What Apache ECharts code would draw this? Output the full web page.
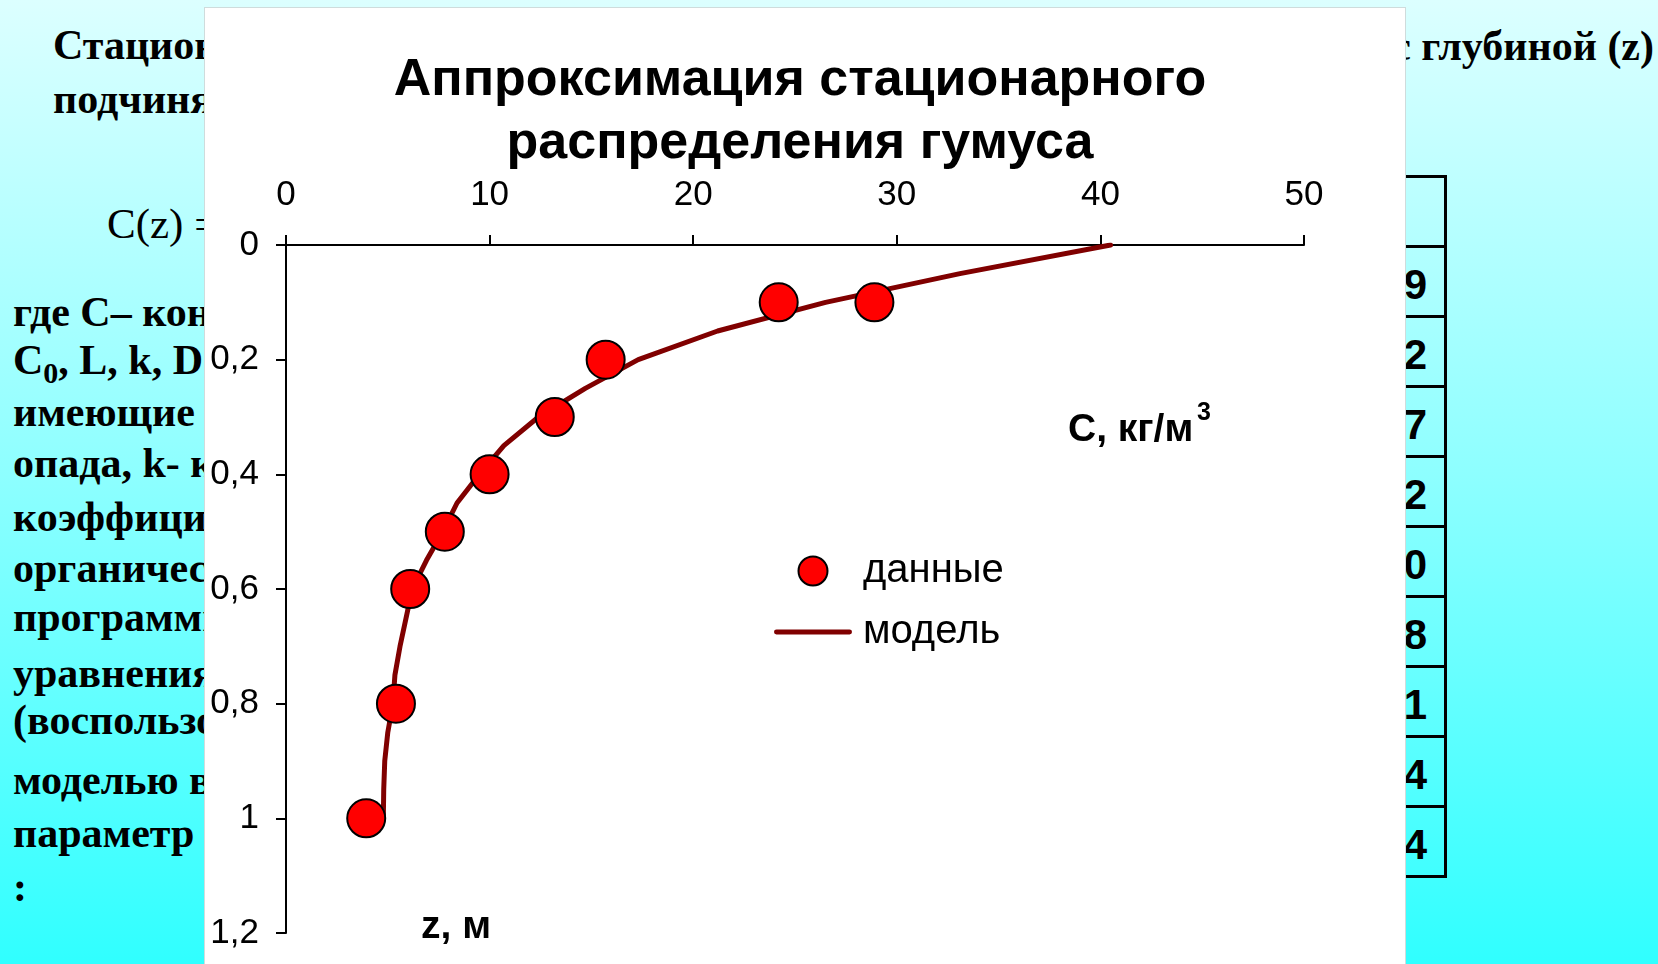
<!DOCTYPE html>
<html lang="ru">
<head>
<meta charset="utf-8">
<title>Аппроксимация стационарного распределения гумуса</title>
<script src="https://cdn.jsdelivr.net/npm/echarts@6.0.0/dist/echarts.min.js"></script>
<style>
  html, body { margin: 0; padding: 0; }
  body {
    width: 1658px; height: 964px; overflow: hidden; position: relative;
    background: linear-gradient(to bottom, #dcffff 0%, #8cffff 50%, #30ffff 100%);
    font-family: "Liberation Serif", serif;
  }
  .slide { position: absolute; left: 0; top: 0; width: 1400px; height: 964px; overflow: hidden; z-index: 1; }
  .ln { position: absolute; white-space: nowrap; font-weight: bold; font-size: 42px; line-height: 46px; color: #000; }
  .ln sub { font-size: 30px; vertical-align: -9px; line-height: 0; }
  .rt { position: absolute; right: 4px; top: 23px; white-space: nowrap; font-weight: bold; font-size: 42px; line-height: 46px; z-index: 1; }
  #tbl { position: absolute; right: 211px; top: 175px; border-collapse: collapse; z-index: 1;
         font-family: "Liberation Sans", sans-serif; font-weight: bold; font-size: 42px; }
  #tbl td { border: 3px solid #000; height: 61px; padding: 6px 17px 0 4px; text-align: right; box-sizing: content-box; }
  #tbl td.h { text-align: center; font-size: 30px; }
  #panel { position: absolute; left: 204px; top: 7px; width: 1200px; height: 970px;
           background: #fff; border: 1px solid #cfdcdc; z-index: 2; }
  #main { position: absolute; left: 0; top: 0; width: 1600px; height: 964px; z-index: 3; }
</style>
</head>
<body>

<div class="slide">
  <div class="ln" style="left:53px; top:22px;">Стационарное распределение гумуса в почве</div>
  <div class="ln" style="left:53px; top:76px;">подчиняется уравнению:</div>
  <div class="ln" style="left:107px; top:201px; font-weight:normal; font-size:43px;">C(z) = C<sub>0</sub>·exp(−kz/D) + L/k·(1 − exp(−kz/D))</div>
  <div class="ln" style="left:13px; top:289px;">где C– концентрация органического вещества,</div>
  <div class="ln" style="left:13px; top:337px;">C<sub>0</sub>, L, k, D – параметры модели,</div>
  <div class="ln" style="left:13px; top:389px;">имеющие смысл: L – интенсивность</div>
  <div class="ln" style="left:13px; top:440px;">опада, k- константа разложения, D –</div>
  <div class="ln" style="left:13px; top:494px;">коэффициент переноса</div>
  <div class="ln" style="left:13px; top:545px;">органического вещества. С помощью</div>
  <div class="ln" style="left:13px; top:594px;">программы подобрать параметры</div>
  <div class="ln" style="left:13px; top:650px;">уравнения по данным таблицы</div>
  <div class="ln" style="left:13px; top:697px;">(воспользоваться</div>
  <div class="ln" style="left:13px; top:757px;">моделью в Excel) и найти</div>
  <div class="ln" style="left:13px; top:810px;">параметр</div>
  <div class="ln" style="left:13px; top:864px;">:</div>
</div>
<div class="rt">с глубиной (z)</div>

<table id="tbl"></table>
<div id="panel"></div>
<div id="main"></div>

<script>
// данные (точки) и модель
var depthZ = [0.1, 0.1, 0.2, 0.3, 0.4, 0.5, 0.6, 0.8, 1.0];
var humusC = [28.9, 24.2, 15.7, 13.2, 10.0, 7.8, 6.1, 5.4, 3.94];

var modelZ = [0, 0.05, 0.1, 0.15, 0.2, 0.25, 0.3, 0.35, 0.4, 0.45, 0.5,
              0.55, 0.6, 0.65, 0.7, 0.75, 0.8, 0.85, 0.9, 0.95, 1.0];
var modelC = [40.5, 33.1, 26.5, 21.2, 17.3, 14.7, 12.4, 10.7, 9.5, 8.4, 7.7,
              6.9, 6.2, 5.9, 5.6, 5.35, 5.25, 5.0, 4.85, 4.8, 4.78];

var xTicks = [0, 10, 20, 30, 40, 50];
var yTicks = [0, 0.2, 0.4, 0.6, 0.8, 1, 1.2];

function comma(v) {
    return String(v).replace('.', ',');
}

// таблица на слайде (видна только правая кромка)
var tbl = document.getElementById('tbl');
var html = '<tr><td class="h" style="width:120px">z, м</td><td class="h" style="width:260px">С, кг/м3</td></tr>';
for (var i = 0; i < depthZ.length; i++) {
    html += '<tr><td>' + comma(depthZ[i]) + '</td><td>' + comma(humusC[i].toFixed(humusC[i] < 4 ? 2 : 1)) + '</td></tr>';
}
tbl.innerHTML = html;

var points = depthZ.map(function (z, i) { return [humusC[i], z]; });
var curve = modelZ.map(function (z, i) { return [modelC[i], z]; });

var myChart = echarts.init(document.getElementById('main'), null, { renderer: 'canvas' });

var axisColor = '#000';
var option = {
    backgroundColor: 'transparent',
    animation: false,
    title: {
        text: 'Аппроксимация стационарного\nраспределения гумуса',
        left: 'center',
        top: 44,
        textStyle: {
            fontFamily: 'Liberation Sans',
            fontWeight: 'bold',
            fontSize: 52,
            lineHeight: 63,
            color: '#000'
        }
    },
    grid: { left: 286, top: 245, width: 1018, height: 688, containLabel: false },
    legend: {
        orient: 'vertical',
        left: 774,
        top: 551,
        padding: 0,
        itemGap: 21,
        itemWidth: 78,
        itemHeight: 29,
        data: [
            { name: 'данные', icon: 'circle' },
            { name: 'модель', icon: 'path://M2,0 L76,0 A2.5,2.5 0 0 1 76,5 L2,5 A2.5,2.5 0 0 1 2,0 Z' }
        ],
        textStyle: { fontFamily: 'Liberation Sans', fontSize: 40, color: '#000', padding: [0, 0, 0, 6] }
    },
    xAxis: {
        type: 'value',
        position: 'top',
        min: xTicks[0],
        max: xTicks[xTicks.length - 1],
        interval: 10,
        splitLine: { show: false },
        axisLine: { lineStyle: { color: axisColor, width: 2 } },
        axisTick: { inside: false, length: 10, lineStyle: { color: axisColor, width: 2 } },
        axisLabel: { margin: 32, fontFamily: 'Liberation Sans', fontSize: 35, color: '#000' }
    },
    yAxis: {
        type: 'value',
        inverse: true,
        min: yTicks[0],
        max: yTicks[yTicks.length - 1],
        interval: 0.2,
        splitLine: { show: false },
        axisLine: { onZero: false, lineStyle: { color: axisColor, width: 2 } },
        axisTick: { inside: false, length: 10, lineStyle: { color: axisColor, width: 2 } },
        axisLabel: {
            margin: 27,
            fontFamily: 'Liberation Sans',
            fontSize: 35,
            color: '#000',
            formatter: function (v) { return comma(Math.round(v * 10) / 10); }
        }
    },
    graphic: [
        {
            type: 'text', left: 1068, top: 411,
            style: { text: 'С, кг/м', font: 'bold 39px "Liberation Sans"', fill: '#000' }
        },
        {
            type: 'text', left: 1197, top: 401,
            style: { text: '3', font: 'bold 25px "Liberation Sans"', fill: '#000' }
        },
        {
            type: 'text', left: 421, top: 908,
            style: { text: 'z, м', font: 'bold 39px "Liberation Sans"', fill: '#000' }
        }
    ],
    series: [
        {
            name: 'модель',
            type: 'line',
            data: curve,
            symbol: 'none',
            smooth: false,
            z: 2,
            lineStyle: { color: '#800000', width: 5, cap: 'round', join: 'round' },
            itemStyle: { color: '#800000' }
        },
        {
            name: 'данные',
            type: 'scatter',
            data: points,
            symbol: 'circle',
            symbolSize: 38,
            z: 3,
            itemStyle: { color: '#ff0000', borderColor: '#000', borderWidth: 2, opacity: 1 }
        }
    ]
};

myChart.setOption(option);
</script>
</body>
</html>
